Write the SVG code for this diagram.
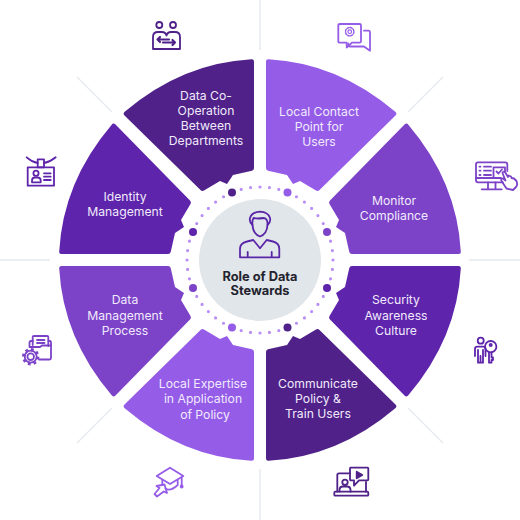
<svg xmlns="http://www.w3.org/2000/svg" width="520" height="520" viewBox="0 0 520 520">
<style>
.lbl{font-family:"Inter","Open Sans","Liberation Sans",sans-serif;font-size:12.2px;fill:#f1eafc;text-anchor:middle}
.ttl{font-family:"Inter","Liberation Sans",sans-serif;font-size:12.800px;font-weight:700;fill:#23232e;text-anchor:middle}
.ic{fill:none;stroke-width:1.800;stroke-linejoin:round;stroke-linecap:round}
.rule{stroke:#e5e9ef;stroke-width:1.400;fill:none}
</style>
<defs>
<path id="seg" d="M-8.500 -200.800Q-6 -201 -6 -198.500L-6 -92Q-6 -89.800 -8 -89.300L-27 -85L-33 -76L-40 -79L-56 -69.500Q-58 -68.300 -59.500 -70L-135.500 -144.500Q-137.500 -146.800 -135 -148.500Q-78 -197 -8.500 -200.800Z"/>
</defs>
<g id="guides">
<path class="rule" d="M260 0V50M260 469V520M0 260H50M469 260H520M77 77L112 112M443 77L408 112M77 443L112 408M443 443L408 408"/>
</g>
<g id="node-data-cooperation">
<use href="#seg" transform="matrix(1 0 0 1 260 260)" fill="#4f2189"/>
<text class="lbl" x="206" y="100">Data Co-</text><text class="lbl" x="206" y="115">Operation</text><text class="lbl" x="206" y="130">Between</text><text class="lbl" x="206" y="145">Departments</text>
<g class="ic" stroke="#4f2189"><circle cx="159.300" cy="25" r="3"/><circle cx="173" cy="25" r="3"/>
<path d="M166 49H153V37Q153 32 158 32H162Q165.500 32 166.500 35.500Q167.500 32 171 32H175Q180 32 180 37V49H167"/><path stroke-width="2.200" d="M169 39.500H157.500M160 37L157.500 39.500L160 42M163 42.500H175M172.500 40L175 42.500L172.500 45"/></g>
</g>
<g id="node-local-contact">
<use href="#seg" transform="matrix(-1 0 0 1 260 260)" fill="#955ce8"/>
<text class="lbl" x="319" y="116">Local Contact</text><text class="lbl" x="319" y="131">Point for</text><text class="lbl" x="319" y="146">Users</text>
<g class="ic" stroke="#955ce8"><path d="M340 24H359.500Q361 24 361 25.500V41.300Q361 42.700 359.500 42.700H352L346.700 47.500V42.700H340Q338.300 42.700 338.300 41.300V25.500Q338.300 24 340 24Z"/>
<path d="M364 30.700H368.500Q370 30.700 370 32.200V50.700L364 46.500H350Q348.300 46.500 348.300 45V43.500"/><circle cx="349.700" cy="31.700" r="1.800" stroke-width="1.200"/><circle cx="349.700" cy="31.700" r="4.200" stroke-width="1.400" stroke-dasharray="2 1.300"/></g>
</g>
<g id="node-monitor-compliance">
<use href="#seg" transform="matrix(0 1 -1 0 260 260)" fill="#7c43c8"/>
<text class="lbl" x="394" y="205">Monitor</text><text class="lbl" x="394" y="220">Compliance</text>
<g class="ic" stroke="#7c43c8"><path d="M503 182.300H478Q476 182.300 476 180.300V164.300Q476 162.300 478 162.300H505.300Q507.300 162.300 507.300 164.300V171"/><path d="M476 178H501M488 182.300V189.300M495.500 182.300V189.300M481.700 189.300H501.700M484 166.700H491M484 170.700H491M484 175H491M479.500 166.700H480.500M479.500 170.700H480.500M479.500 175H480.500"/><path d="M493.500 176.700V167.300H505V172M496.500 171.500L498.500 173.500L502 169.500"/>
<path d="M506.500 188.500L501.500 181Q500.500 178.500 503 178.500L505.500 180.500L502.500 173Q503 171 505 172L508 177L508.500 175.500L511 176.500L511.500 178L514 178.500L516.500 181Q518 185 516 187L513 190Z"/></g>
</g>
<g id="node-security-awareness">
<use href="#seg" transform="matrix(0 -1 -1 0 260 260)" fill="#5e24ab"/>
<text class="lbl" x="396" y="304">Security</text><text class="lbl" x="396" y="320">Awareness</text><text class="lbl" x="396" y="335">Culture</text>
<g class="ic" stroke="#5e24ab"><circle cx="480.700" cy="340.700" r="3"/><path d="M475 356V349Q475 346.700 477.500 346.700H483.500Q485.500 346.700 485.500 349V356M478 350V362.700H483V350M480.500 356V362.700"/><circle cx="490.700" cy="346.700" r="5.700"/><circle cx="490.700" cy="345" r="1.100"/><path d="M489 352.500V362.700H491.500V360H493V357.500H491.500V352.500"/></g>
</g>
<g id="node-communicate-policy">
<use href="#seg" transform="matrix(-1 0 0 -1 260 260)" fill="#4f2189"/>
<text class="lbl" x="318" y="388">Communicate</text><text class="lbl" x="318" y="403">Policy &amp;</text><text class="lbl" x="318" y="418">Train Users</text>
<g class="ic" stroke="#4f2189"><path d="M350 473.300H339Q337.300 473.300 337.300 475V491.700M366 482V491.700"/><path d="M335.300 491.700H367.300Q368.300 491.700 368.300 493V494.700Q368.300 495.700 367.300 495.700H335.300Q334.300 495.700 334.300 494.700V493Q334.300 491.700 335.300 491.700Z"/><path d="M350.500 467.700H367.500Q368.300 467.700 368.300 468.500V479.500Q368.300 480.300 367.500 480.300H359L354 485.700V480.300H350.500Q350 480.300 350 479.500V468.500Q350 467.700 350.500 467.700Z"/><circle cx="345" cy="482.300" r="2.700"/><path d="M339.500 491.700V490Q339.500 486.500 343 486.500H347Q350.500 486.500 350.500 490V491.700"/><path d="M356.700 471.700L362.300 475L356.700 478.300Z" fill="#4f2189"/></g>
</g>
<g id="node-local-expertise">
<use href="#seg" transform="matrix(1 0 0 -1 260 260)" fill="#955ce8"/>
<text class="lbl" x="203" y="388">Local Expertise</text><text class="lbl" x="203" y="403">in Application</text><text class="lbl" x="205" y="419">of Policy</text>
<g class="ic" stroke="#955ce8"><path d="M170 467.700L183.300 476L170 484L156.700 476Z"/><path d="M162.300 480.500V485M177.700 480.500V485Q170 492 165.500 488.500M181.700 477.500V485"/><circle cx="181.700" cy="486.500" r="1"/><path d="M164.500 484.500L167 493L163.800 491.500L157 496.500L154.500 494L159.500 488L156.500 486Z"/></g>
</g>
<g id="node-data-management">
<use href="#seg" transform="matrix(0 -1 1 0 260 260)" fill="#7c43c8"/>
<text class="lbl" x="125" y="304">Data</text><text class="lbl" x="125" y="320">Management</text><text class="lbl" x="125" y="335">Process</text>
<g class="ic" stroke="#7c43c8"><path d="M29.500 347V343Q29.500 341 31 341H33M48.500 341H50Q51 341 51 343V358Q51 359.500 49.500 359.500H39"/><path d="M32.700 345V337Q32.700 336 34 336H47Q48.300 336 48.300 337V346"/><path d="M30 347H40L42 345.500H51M37 340H44.500M37 343H44.500"/><circle cx="30.700" cy="356.700" r="3.300"/><circle cx="30.700" cy="356.700" r="7" stroke-width="3.400" stroke-dasharray="2.600 2.900" stroke-linecap="butt"/><circle cx="30.700" cy="356.700" r="6"/></g>
</g>
<g id="node-identity-management">
<use href="#seg" transform="matrix(0 1 1 0 260 260)" fill="#5e24ab"/>
<text class="lbl" x="125" y="201">Identity</text><text class="lbl" x="125" y="216">Management</text>
<g class="ic" stroke="#5e24ab"><path d="M26.700 157.300Q32 162 37.700 163M44 163Q50 162 55.700 157.300"/><rect x="37.700" y="159.300" width="6.300" height="8"/><rect x="27.700" y="167.300" width="26.300" height="18.400"/><circle cx="36" cy="173.300" r="2.600"/><path d="M32 182.300V180.500Q32 177.500 35 177.500H37.500Q40.700 177.500 40.700 180.500V182.300ZM44 173.300H50.700M44 176.700H50.700M44 180H50.700"/></g>
</g>
<g id="center">
<circle cx="260" cy="260" r="61" fill="#e1e6ea"/>
<circle cx="260" cy="260" r="73" fill="none" stroke="#b98ff5" stroke-width="3.200" stroke-linecap="round" pathLength="48" stroke-dasharray="0 1"/>
<circle cx="232" cy="192.500" r="4" fill="#4f2189"/><circle cx="287.500" cy="192.500" r="4" fill="#955ce8"/><circle cx="327" cy="232" r="4" fill="#7c43c8"/><circle cx="327" cy="288" r="4" fill="#5e24ab"/><circle cx="287.500" cy="327.500" r="4" fill="#4f2189"/><circle cx="232" cy="327.500" r="4" fill="#955ce8"/><circle cx="193" cy="288" r="4" fill="#7c43c8"/><circle cx="193" cy="232" r="4" fill="#5e24ab"/>
<g class="ic" stroke="#5a26a8"><path d="M252.500 225Q249 222 250 218Q252 212 260 211.700Q268 212 270 218Q271 222 267.500 225Q268 218 263 218Q258 219 253.500 218Q252 220 252.500 225Z"/><path d="M252.500 225Q253 234 260 236.500Q267 234 267.500 225"/><path d="M240 257.300V249Q240 243 247 241.500L253.300 240L260 248.300L266.700 240L273 241.500Q279.300 243 279.300 249V257.300ZM247.700 252V257.300M271.700 252V257.300"/></g>
<text class="ttl"><tspan x="260" y="280.700">Role of Data</tspan><tspan x="260" y="294.500">Stewards</tspan></text>
</g>
</svg>
